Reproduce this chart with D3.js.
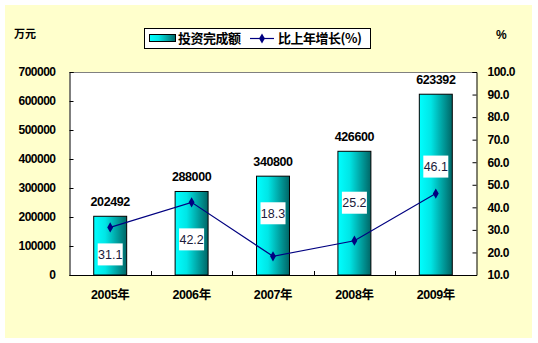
<!DOCTYPE html>
<html><head><meta charset="utf-8">
<script src="https://cdn.jsdelivr.net/npm/d3@7"></script>
<style>
body{margin:0;padding:0;background:#fff;}
svg{display:block;}
</style></head>
<body>
<svg id="c" width="538" height="343"></svg>
<script>
const categories = ["2005年","2006年","2007年","2008年","2009年"];
const investment = [202492, 288000, 340800, 426600, 623392];
const growth = [31.1, 42.2, 18.3, 25.2, 46.1];
const leftTicks = [0,100000,200000,300000,400000,500000,600000,700000];
const rightTicks = [10,20,30,40,50,60,70,80,90,100];
const seriesNames = ["投资完成额","比上年增长(%)"];
// label offsets (layout only) relative to line points
const growthLabelDy = [27, 37, -43, -38, -27];

const svg = d3.select("#c");
const m = {left:69.5, right:476.5, top:72, bottom:275};

svg.append("rect").attr("x",5).attr("y",5).attr("width",527).attr("height",333).attr("fill","#FFFFCC");

const defs = svg.append("defs");
const grad = defs.append("linearGradient").attr("id","bg").attr("x1","0").attr("x2","1").attr("y1","0").attr("y2","0");
grad.append("stop").attr("offset","0%").attr("stop-color","#00FFFF");
grad.append("stop").attr("offset","35%").attr("stop-color","#00E6E6");
grad.append("stop").attr("offset","100%").attr("stop-color","#006666");

// plot area
svg.append("rect").attr("x",m.left).attr("y",m.top).attr("width",m.right-m.left).attr("height",m.bottom-m.top).attr("fill","#fff");
svg.append("line").attr("x1",m.left).attr("x2",m.right).attr("y1",m.top+0.5).attr("y2",m.top+0.5).attr("stroke","#808080");

const x = d3.scaleBand().domain(categories).range([m.left,m.right]).paddingInner(0.595).paddingOuter(0.2975);
const yL = d3.scaleLinear().domain([0,700000]).range([m.bottom,m.top]);
const yR = d3.scaleLinear().domain([10,100]).range([m.bottom,m.top]);

const numFont = "'Liberation Sans', Arial, sans-serif";
const cjkFont = "'Noto Sans CJK SC', sans-serif";

// bars
svg.append("g").selectAll("rect").data(investment).join("rect")
  .attr("x",(d,i)=>x(categories[i])).attr("y",d=>yL(d))
  .attr("width",x.bandwidth()).attr("height",d=>m.bottom-yL(d))
  .attr("fill","url(#bg)").attr("stroke","#000").attr("stroke-width",1);

// bar value labels
svg.append("g").selectAll("text").data(investment).join("text")
  .attr("x",(d,i)=>x(categories[i])+x.bandwidth()/2).attr("y",d=>yL(d)-10)
  .attr("text-anchor","middle").attr("font-family",numFont).attr("font-weight","bold")
  .attr("font-size","12.5px").attr("letter-spacing","-0.4").attr("fill","#000").text(d=>d);

// left axis
const axL = d3.axisLeft(yL).tickValues(leftTicks).tickSize(-4).tickPadding(14).tickFormat(d=>d);
const gL = svg.append("g").attr("transform",`translate(${m.left},0)`).call(axL);
gL.select(".domain").attr("stroke","#000");
gL.selectAll(".tick line").attr("stroke","#000");
gL.selectAll("text").attr("font-family",numFont).attr("font-weight","bold").attr("font-size","12px").attr("letter-spacing","-0.5").attr("fill","#000");

// right axis
const axR = d3.axisRight(yR).tickValues(rightTicks).tickSize(-4).tickPadding(11).tickFormat(d3.format(".1f"));
const gR = svg.append("g").attr("transform",`translate(${m.right},0)`).call(axR);
gR.select(".domain").attr("stroke","#000");
gR.selectAll(".tick line").attr("stroke","#000");
gR.selectAll("text").attr("font-family",numFont).attr("font-weight","bold").attr("font-size","12px").attr("letter-spacing","-0.5").attr("fill","#000");

// bottom axis
const xb = d3.scaleLinear().domain([0,5]).range([m.left,m.right]);
const gB = svg.append("g");
gB.append("line").attr("x1",m.left).attr("x2",m.right).attr("y1",m.bottom+0.5).attr("y2",m.bottom+0.5).attr("stroke","#000");
gB.selectAll("line.t").data([1,2,3,4]).join("line").attr("class","t")
  .attr("x1",d=>Math.round(xb(d))+0.5).attr("x2",d=>Math.round(xb(d))+0.5)
  .attr("y1",m.bottom).attr("y2",m.bottom-4).attr("stroke","#000");
gB.selectAll("text").data(categories).join("text")
  .attr("x",d=>x(d)+x.bandwidth()/2).attr("y",299)
  .attr("text-anchor","middle").attr("font-weight","bold")
  .attr("font-size","12.5px").attr("letter-spacing","-0.4").attr("fill","#000")
  .selectAll("tspan").data(d=>[d.slice(0,4),d.slice(4)]).join("tspan")
  .attr("font-family",(d,i)=>i?cjkFont:numFont).text(d=>d);

// line
const line = d3.line().x((d,i)=>x(categories[i])+x.bandwidth()/2).y(d=>yR(d));
svg.append("path").datum(growth).attr("d",line).attr("fill","none").attr("stroke","#000080").attr("stroke-width",1.2);
const diamond = d3.symbol().type(d3.symbolDiamond).size(30);
svg.append("g").selectAll("path").data(growth).join("path")
  .attr("transform",(d,i)=>`translate(${x(categories[i])+x.bandwidth()/2},${yR(d)})`)
  .attr("d",diamond).attr("fill","#000080");

// growth labels
const gl = svg.append("g").selectAll("g").data(growth).join("g")
  .attr("transform",(d,i)=>`translate(${x(categories[i])+x.bandwidth()/2},${yR(d)+growthLabelDy[i]})`);
gl.append("rect").attr("x",-12.5).attr("y",-11).attr("width",25).attr("height",22).attr("fill","#fff");
gl.append("text").attr("text-anchor","middle").attr("dy","0.36em").attr("font-family",numFont)
  .attr("font-size","12.5px").attr("fill","#1a1a3a").text(d=>d.toFixed(1));

// units
svg.append("text").attr("x",14).attr("y",38).attr("font-family",cjkFont).attr("font-weight","bold").attr("font-size","11px").attr("fill","#000").text("万元");
svg.append("text").attr("x",496).attr("y",39).attr("font-family",numFont).attr("font-weight","bold").attr("font-size","12px").attr("fill","#000").text("%");

// legend
const lg = svg.append("g");
lg.append("rect").attr("x",144.5).attr("y",28.5).attr("width",226).attr("height",20).attr("fill","#fff").attr("stroke","#000");
lg.append("rect").attr("x",149.5).attr("y",34.5).attr("width",26).attr("height",7).attr("fill","url(#bg)").attr("stroke","#000");
lg.append("text").attr("x",178).attr("y",43).attr("font-family",cjkFont).attr("font-weight","bold").attr("font-size","13px").attr("letter-spacing","-0.5").attr("fill","#000").text(seriesNames[0]);
lg.append("line").attr("x1",250).attr("x2",274).attr("y1",38.5).attr("y2",38.5).attr("stroke","#000080").attr("stroke-width",1.2);
lg.append("path").attr("transform","translate(262,38.5)").attr("d",diamond).attr("fill","#000080");
lg.append("text").attr("x",278).attr("y",43).attr("font-family",cjkFont).attr("font-weight","bold").attr("font-size","13px").attr("letter-spacing","-0.5").attr("fill","#000").text(seriesNames[1]);
</script>
</body></html>
